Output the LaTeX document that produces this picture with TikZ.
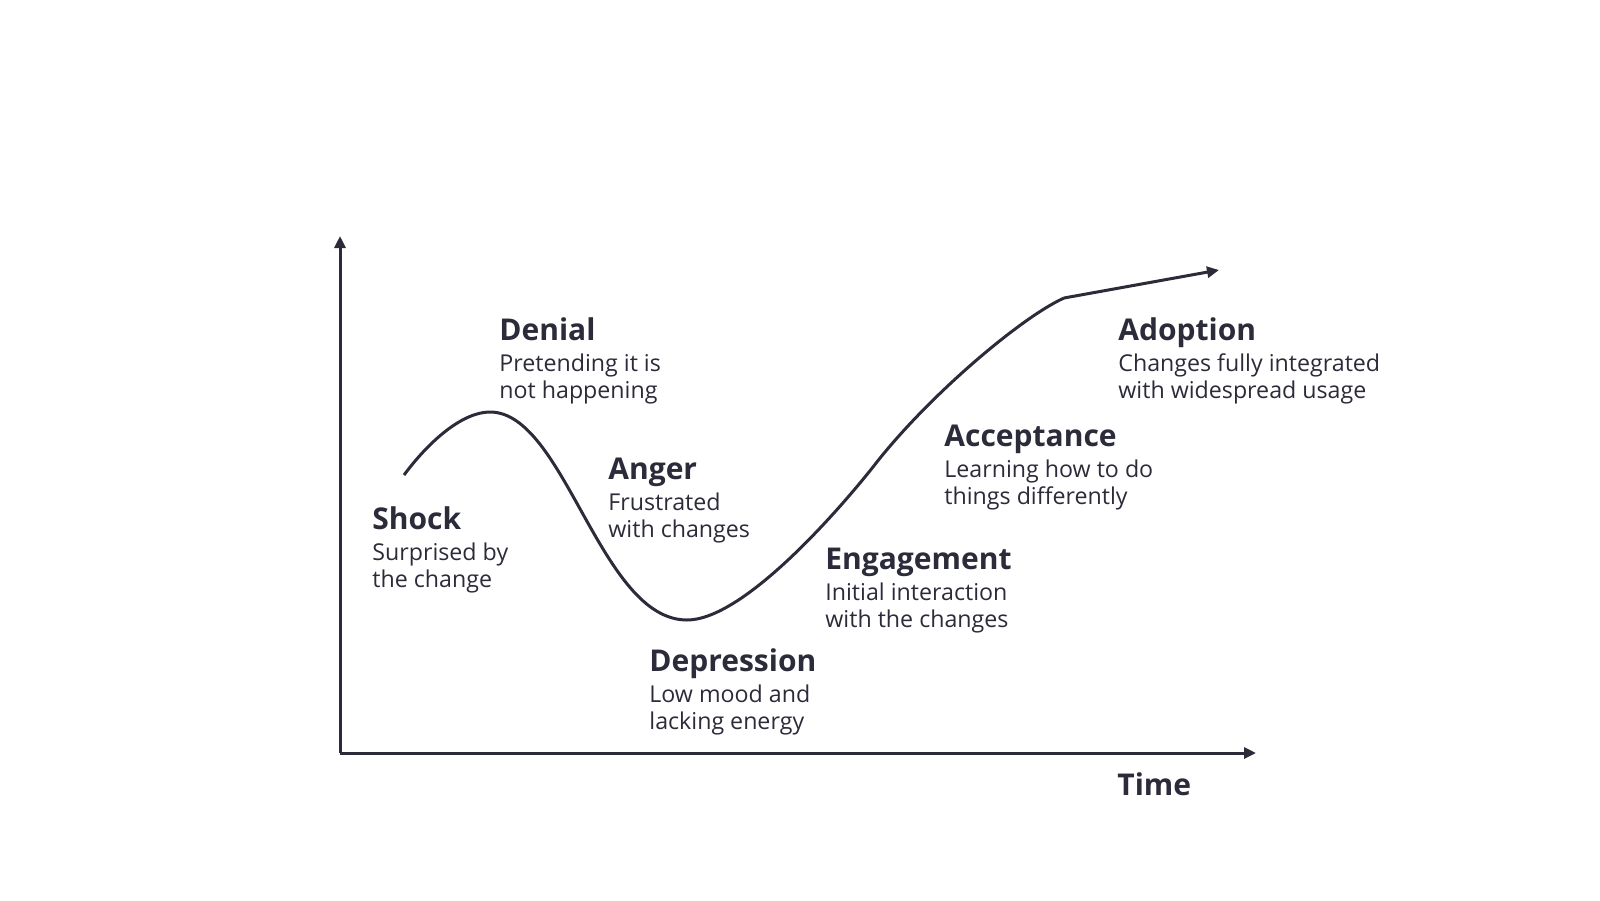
\documentclass[tikz,border=0pt]{standalone}
\usepackage{fontspec}
\setmainfont{Open Sans}
\usetikzlibrary{arrows.meta}
\definecolor{ink}{HTML}{2B2B3A}
\tikzset{
  ttl/.style={anchor=base west, inner sep=0pt, text=ink, font=\fontsize{15}{18}\selectfont\bfseries},
  dsc/.style={anchor=base west, inner sep=0pt, text=ink, align=left, font=\fontsize{11.6}{13.5}\selectfont},
  ln/.style={draw=ink, line width=1.5pt},
  tip/.style={-{Triangle[length=6pt,width=5.5pt]}}
}
\begin{document}
\begin{tikzpicture}[x=0.5pt,y=-0.5pt]
\useasboundingbox (0,0) rectangle (1600,900);
% axes
\coordinate (origin) at (340,753);
\coordinate (ytop) at (340,236);
\coordinate (xend) at (1256,753);
\draw[ln,tip] (origin) -- (ytop);
\draw[ln,tip] (origin) -- (xend);
% curve
\coordinate (start) at (404,475);
\coordinate (peak) at (490,412);
\coordinate (trough) at (687,620);
\coordinate (mid) at (873,467);
\coordinate (kink) at (1064,298);
\coordinate (cend) at (1219,270);
\draw[ln,line join=round] (start) .. controls (430,440) and (463,412) .. (peak)
  .. controls (565,412) and (600,620) .. (trough)
  .. controls (742,620) and (834,516) .. (mid)
  .. controls (926,398) and (1020,318) .. (kink);
\draw[ln,tip] (kink) -- (cend);
% labels
\node[ttl] (t1) at (372,529) {Shock};
\node[dsc] (d1) at (372,587) {Surprised by\\the change};
\node[ttl] (t2) at (499,340) {Denial};
\node[dsc] (d2) at (499,398) {Pretending it is\\not happening};
\node[ttl] (t3) at (608,479) {Anger};
\node[dsc] (d3) at (608,537) {Frustrated\\with changes};
\node[ttl] (t4) at (649,671) {Depression};
\node[dsc] (d4) at (649,729) {Low mood and\\lacking energy};
\node[ttl] (t5) at (825,569) {Engagement};
\node[dsc] (d5) at (825,627) {Initial interaction\\with the changes};
\node[ttl] (t6) at (944,446) {Acceptance};
\node[dsc] (d6) at (944,504) {Learning how to do\\things differently};
\node[ttl] (t7) at (1118,340) {Adoption};
\node[dsc] (d7) at (1118,398) {Changes fully integrated\\with widespread usage};
\node[ttl] (time) at (1117,795) {Time};
\end{tikzpicture}
\end{document}
